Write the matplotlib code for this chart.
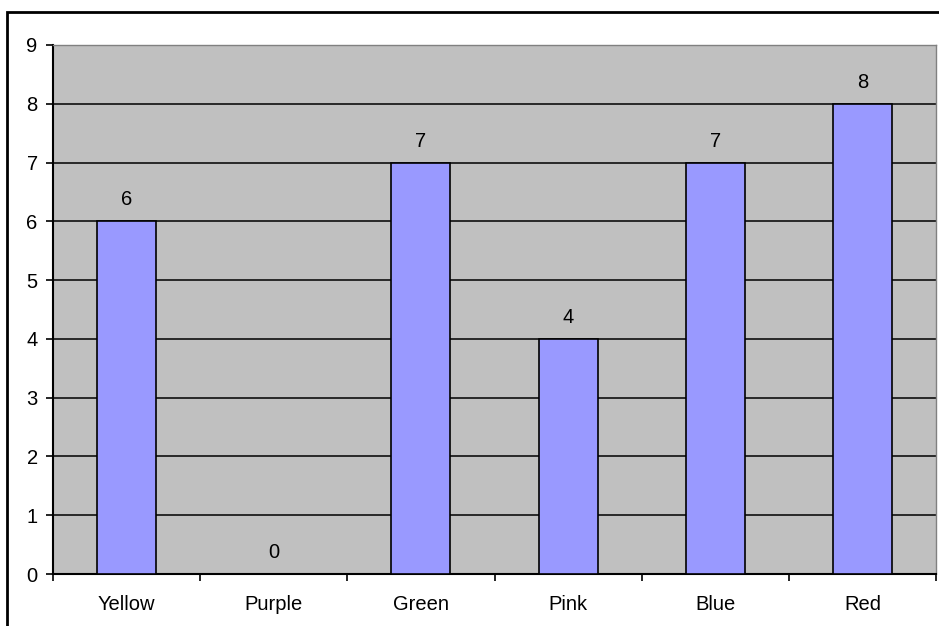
import matplotlib
matplotlib.use("Agg")
import matplotlib.pyplot as plt
from matplotlib.patches import Rectangle

colors = ['Yellow', 'Purple', 'Green', 'Pink', 'Blue', 'Red']
counts = [6, 0, 7, 4, 7, 8]

plt.rcParams['font.family'] = ['Liberation Sans', 'DejaVu Sans']
FS = 14.5

fig = plt.figure(figsize=(9.39, 6.26), dpi=100)
ax = fig.add_axes([53 / 939, 1 - 574 / 626, (936 - 53) / 939, (574 - 45) / 626])

# chart frame (left and top edges only show inside the canvas)
fig.patches.append(Rectangle((7 / 939, -0.1), 1.2, 1 - 12 / 626 + 0.1, transform=fig.transFigure,
                             fill=False, edgecolor='black', linewidth=2, zorder=0))

ax.set_facecolor('#C0C0C0')
x = range(len(colors))
ax.bar(x, counts, width=0.4, color='#9999FF', edgecolor='black', linewidth=1.2, zorder=3)
for i, v in zip(x, counts):
    ax.annotate(str(v), (i, v), xytext=(0, 15.5), textcoords='offset points',
                ha='center', va='center', fontsize=FS)

ax.set_ylim(0, 9)
ax.set_xlim(-0.5, len(colors) - 0.5)
ax.set_yticks(range(10))
ax.yaxis.grid(True, color='black', linewidth=1.1, zorder=1)
ax.set_axisbelow(True)

ax.set_xticks(x)
ax.set_xticklabels(colors, fontsize=FS)
ax.tick_params(axis='x', length=0, pad=15)
ax.set_xticks([i - 0.5 for i in range(len(colors) + 1)], minor=True)
ax.tick_params(axis='x', which='minor', length=5, width=1.2, direction='out')
ax.tick_params(axis='y', length=5, width=1.2, labelsize=FS, pad=6)

for side in ['top', 'right']:
    ax.spines[side].set_color('#808080')
    ax.spines[side].set_linewidth(1)
for side in ['left', 'bottom']:
    ax.spines[side].set_linewidth(1.5)

plt.savefig('out.png', dpi=100)
